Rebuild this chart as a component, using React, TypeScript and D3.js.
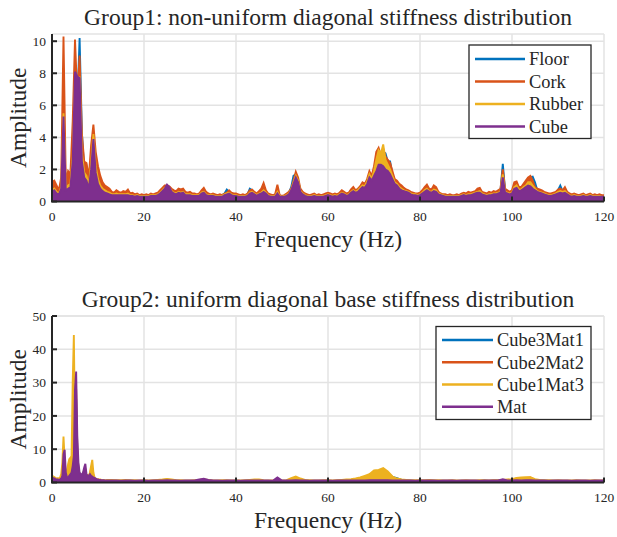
import React from 'react';
import * as d3 from 'd3';

const W = 617;
const H = 537;
const COLORS = ['#0072BD', '#D95319', '#EDB120', '#7E2F8E'];
const FONT = '"Liberation Serif", "Times New Roman", serif';

// ---------- Group 1 (0.5 Hz resolution, 0..120 Hz) ----------
const topFreq = d3.range(0, 241).map((i) => i * 0.5);

const floorAmp = [
  0.8,0.9,0.7,0.6,1.0,4.0,0.9,1.2,1.3,3.5,
  7.5,6.0,10.2,4.3,2.0,2.2,1.2,2.5,3.8,2.4,
  1.6,1.2,0.9,0.8,0.7,0.6,0.5,0.5,0.55,0.5,
  0.5,0.5,0.5,0.55,0.45,0.45,0.4,0.45,0.35,0.4,
  0.35,0.4,0.35,0.4,0.4,0.45,0.5,0.6,0.75,0.9,
  0.95,0.9,0.7,0.6,0.55,0.65,0.6,0.65,0.5,0.5,
  0.5,0.45,0.45,0.4,0.45,0.6,0.7,0.5,0.45,0.4,
  0.45,0.4,0.35,0.4,0.4,0.5,0.75,0.6,0.5,0.45,
  0.45,0.4,0.35,0.4,0.4,0.45,0.8,0.7,0.55,0.45,
  0.55,0.6,0.9,0.6,0.45,0.4,0.35,0.4,0.7,0.35,
  0.35,0.35,0.45,0.55,0.9,1.6,1.7,1.3,0.7,0.5,
  0.45,0.4,0.35,0.4,0.45,0.35,0.4,0.35,0.4,0.45,
  0.5,0.45,0.4,0.45,0.4,0.5,0.6,0.55,0.45,0.5,
  0.7,0.8,0.65,0.75,0.9,1.0,1.0,1.3,1.7,1.5,
  2.0,2.6,3.0,2.7,3.1,3.0,2.5,2.5,1.7,1.3,
  1.2,1.0,0.9,0.8,0.7,0.65,0.55,0.5,0.45,0.45,
  0.5,0.6,0.8,0.9,0.7,0.65,0.85,0.8,0.55,0.45,
  0.4,0.4,0.35,0.4,0.35,0.35,0.4,0.35,0.45,0.5,
  0.45,0.5,0.5,0.55,0.6,0.7,0.75,0.55,0.5,0.45,
  0.5,0.5,0.55,0.55,0.6,0.7,2.35,0.7,0.6,0.55,
  0.6,1.0,1.1,0.8,0.8,1.0,1.2,1.4,1.5,1.55,
  1.2,0.7,0.65,0.6,0.55,0.5,0.45,0.45,0.5,0.55,
  0.7,1.0,0.65,0.8,0.55,0.45,0.4,0.45,0.4,0.35,
  0.4,0.45,0.35,0.4,0.45,0.35,0.4,0.35,0.4,0.35,
  0.35,
];

const corkAmp = [
  1.2,1.3,1.0,0.7,1.5,10.3,1.2,1.9,1.7,5.0,
  10.1,6.5,9.1,4.2,2.5,2.4,1.5,3.5,4.8,3.1,
  2.2,1.6,1.2,1.0,0.9,0.8,0.6,0.55,0.7,0.6,
  0.55,0.65,0.6,0.75,0.5,0.55,0.45,0.5,0.4,0.45,
  0.4,0.45,0.4,0.5,0.45,0.5,0.55,0.7,0.85,1.0,
  1.0,0.95,0.8,0.7,0.65,0.8,0.75,0.8,0.6,0.55,
  0.6,0.5,0.5,0.45,0.5,0.7,0.85,0.6,0.5,0.45,
  0.5,0.45,0.4,0.45,0.4,0.5,0.55,0.7,0.55,0.5,
  0.5,0.45,0.4,0.45,0.4,0.5,0.7,0.75,0.6,0.5,
  0.65,0.8,1.15,0.7,0.5,0.45,0.4,0.45,1.05,0.4,
  0.35,0.4,0.5,0.6,0.8,1.3,1.85,1.5,0.8,0.6,
  0.5,0.45,0.4,0.45,0.5,0.4,0.45,0.4,0.45,0.5,
  0.55,0.5,0.45,0.5,0.45,0.55,0.7,0.6,0.5,0.55,
  0.75,0.9,0.7,0.8,0.95,1.2,1.1,1.4,1.9,1.6,
  2.2,3.1,3.35,2.9,3.3,2.8,2.6,2.4,1.9,1.4,
  1.3,1.1,1.0,0.85,0.75,0.7,0.6,0.55,0.5,0.5,
  0.55,0.7,0.9,1.05,0.8,0.75,1.0,0.9,0.6,0.5,
  0.45,0.45,0.4,0.45,0.4,0.4,0.45,0.4,0.5,0.55,
  0.5,0.6,0.55,0.6,0.65,0.8,0.85,0.6,0.55,0.5,
  0.6,0.55,0.65,0.6,0.7,0.8,2.0,0.8,0.7,0.6,
  0.7,1.2,1.25,0.9,0.9,1.1,1.3,1.5,1.6,1.3,
  0.9,0.8,0.75,0.7,0.6,0.55,0.5,0.5,0.55,0.6,
  0.75,0.8,0.7,0.9,0.6,0.5,0.45,0.5,0.45,0.4,
  0.45,0.5,0.4,0.45,0.5,0.4,0.45,0.4,0.45,0.4,
  0.4,
];

const rubberAmp = [
  0.7,0.8,0.6,0.5,0.9,5.5,0.8,1.0,1.1,2.8,
  7.6,7.0,7.8,3.0,1.8,1.6,1.0,2.4,4.2,2.2,
  1.4,1.0,0.8,0.7,0.6,0.55,0.45,0.45,0.5,0.45,
  0.45,0.45,0.45,0.5,0.4,0.4,0.35,0.4,0.35,0.35,
  0.35,0.35,0.35,0.4,0.4,0.4,0.45,0.55,0.7,0.85,
  0.9,0.85,0.65,0.55,0.5,0.6,0.55,0.6,0.45,0.45,
  0.45,0.4,0.4,0.4,0.4,0.55,0.6,0.45,0.4,0.4,
  0.4,0.35,0.35,0.35,0.35,0.45,0.5,0.55,0.45,0.4,
  0.4,0.35,0.35,0.35,0.35,0.4,0.55,0.6,0.5,0.4,
  0.5,0.55,0.7,0.55,0.4,0.35,0.35,0.35,0.6,0.35,
  0.3,0.35,0.4,0.5,0.75,1.2,1.6,1.3,0.65,0.5,
  0.4,0.35,0.35,0.35,0.4,0.35,0.35,0.35,0.35,0.4,
  0.45,0.4,0.35,0.4,0.35,0.45,0.55,0.5,0.4,0.45,
  0.6,0.7,0.6,0.7,0.85,1.0,0.95,1.25,1.7,1.4,
  1.9,2.6,3.2,3.0,3.56,2.6,2.3,2.0,1.6,1.2,
  1.1,0.9,0.8,0.7,0.65,0.6,0.5,0.45,0.45,0.4,
  0.45,0.55,0.7,0.8,0.65,0.6,0.75,0.7,0.5,0.45,
  0.4,0.35,0.35,0.35,0.35,0.35,0.35,0.35,0.4,0.45,
  0.4,0.45,0.45,0.5,0.55,0.6,0.65,0.5,0.45,0.4,
  0.45,0.45,0.5,0.5,0.55,0.6,1.7,0.6,0.55,0.5,
  0.55,0.9,1.0,0.75,0.75,0.9,1.0,1.2,1.2,1.0,
  0.8,0.65,0.6,0.55,0.5,0.45,0.4,0.4,0.45,0.5,
  0.6,0.65,0.6,0.65,0.5,0.4,0.35,0.4,0.35,0.35,
  0.35,0.4,0.35,0.35,0.4,0.35,0.35,0.35,0.35,0.3,
  0.3,
];

const cubeAmp = [
  0.6,0.7,0.5,0.45,0.8,5.3,0.7,0.8,0.9,2.5,
  8.1,7.8,7.7,2.5,1.5,1.3,0.8,2.0,3.9,1.8,
  1.1,0.8,0.65,0.55,0.5,0.45,0.4,0.4,0.4,0.4,
  0.4,0.4,0.4,0.4,0.35,0.35,0.3,0.35,0.3,0.3,
  0.3,0.3,0.3,0.35,0.35,0.35,0.4,0.5,0.65,0.8,
  1.05,0.9,0.6,0.5,0.45,0.55,0.5,0.55,0.4,0.4,
  0.4,0.35,0.35,0.35,0.35,0.5,0.55,0.4,0.35,0.35,
  0.35,0.3,0.3,0.3,0.3,0.4,0.45,0.5,0.4,0.35,
  0.35,0.3,0.3,0.3,0.3,0.35,0.5,0.55,0.45,0.35,
  0.45,0.5,0.6,0.5,0.35,0.3,0.3,0.3,0.5,0.3,
  0.3,0.3,0.35,0.45,0.7,1.1,1.5,1.2,0.6,0.45,
  0.35,0.3,0.3,0.3,0.35,0.3,0.3,0.3,0.3,0.35,
  0.4,0.35,0.3,0.35,0.3,0.4,0.5,0.45,0.35,0.4,
  0.55,0.65,0.55,0.6,0.75,0.9,0.85,1.1,1.5,1.3,
  1.6,1.9,2.3,2.3,2.2,2.0,1.9,1.7,1.4,1.1,
  1.0,0.8,0.7,0.65,0.6,0.55,0.45,0.4,0.4,0.35,
  0.4,0.5,0.6,0.7,0.6,0.55,0.65,0.6,0.45,0.4,
  0.35,0.3,0.3,0.3,0.3,0.3,0.3,0.3,0.35,0.4,
  0.35,0.4,0.4,0.45,0.5,0.55,0.55,0.45,0.4,0.35,
  0.4,0.4,0.45,0.45,0.5,0.55,1.5,0.55,0.5,0.45,
  0.5,0.8,0.85,0.65,0.7,0.8,0.9,1.0,0.95,0.8,
  0.7,0.6,0.55,0.5,0.45,0.4,0.35,0.35,0.4,0.45,
  0.5,0.55,0.5,0.55,0.45,0.35,0.3,0.35,0.3,0.3,
  0.3,0.35,0.3,0.3,0.35,0.3,0.3,0.3,0.3,0.3,
  0.3,
];

// ---------- Group 2 (0.25 Hz up to 12 Hz, then 1 Hz) ----------
const bottomFreq = [
  ...d3.range(0, 48).map((i) => i * 0.25),
  ...d3.range(12, 121),
];

const cube3Mat1Amp = [
  0.8,1.0,0.9,0.8,0.7,0.7,0.6,0.7,
  1.0,2.0,6.0,5.0,2.0,1.2,1.5,2.0,
  2.2,2.5,4.0,6.0,20.0,25.0,9.0,4.0,
  2.5,2.0,2.0,2.5,3.5,3.0,2.0,1.5,
  1.5,2.0,3.0,3.0,1.5,1.0,0.9,0.8,
  0.7,0.6,0.6,0.6,0.5,0.5,0.5,0.5,
  0.55,0.5,0.5,0.45,0.5,0.55,0.5,0.5,0.45,0.5,
  0.5,0.6,0.7,0.9,0.7,0.55,0.5,0.5,0.45,0.5,
  0.6,0.7,0.6,0.5,0.5,0.45,0.5,0.5,0.5,0.45,
  0.5,0.6,0.7,0.6,0.5,0.5,0.45,0.6,0.5,0.5,
  1.0,1.4,0.9,0.6,0.5,0.5,0.5,0.5,0.5,0.45,
  0.5,0.6,0.7,0.8,0.9,1.1,1.5,1.9,2.6,3.0,
  3.2,2.8,1.7,1.3,0.8,0.6,0.55,0.5,0.5,0.5,
  0.55,0.5,0.5,0.45,0.5,0.5,0.45,0.5,0.5,0.5,
  0.5,0.5,0.55,0.5,0.55,0.6,0.8,0.7,0.8,1.0,
  1.1,1.2,1.2,0.8,0.6,0.55,0.5,0.5,0.5,0.5,
  0.5,0.45,0.5,0.5,0.5,0.45,0.5,0.5,0.5,
];

const cube2Mat2Amp = [
  0.9,1.1,1.0,0.9,0.8,0.8,0.7,0.8,
  1.0,2.5,8.0,6.0,2.0,1.3,1.8,2.5,
  3.0,3.5,8.0,15.0,25.0,28.0,10.0,4.0,
  2.5,2.0,2.0,2.5,3.8,4.0,2.0,1.6,
  1.6,2.5,4.0,4.0,1.8,1.1,0.9,0.8,
  0.7,0.6,0.6,0.6,0.5,0.5,0.5,0.5,
  0.55,0.5,0.55,0.5,0.5,0.5,0.5,0.45,0.5,0.5,
  0.5,0.55,0.65,0.8,0.7,0.5,0.5,0.5,0.5,0.5,
  0.65,0.8,0.65,0.5,0.5,0.5,0.5,0.45,0.5,0.5,
  0.5,0.55,0.65,0.6,0.5,0.5,0.5,0.7,0.5,0.5,
  0.9,1.3,0.9,0.6,0.5,0.5,0.5,0.5,0.5,0.5,
  0.55,0.6,0.7,0.75,0.85,1.0,1.3,1.7,2.2,2.6,
  2.8,2.4,1.5,1.0,0.7,0.6,0.5,0.5,0.5,0.5,
  0.5,0.5,0.5,0.5,0.5,0.5,0.5,0.5,0.5,0.5,
  0.5,0.5,0.5,0.5,0.55,0.6,0.7,0.7,0.8,1.2,
  1.3,1.4,1.5,0.8,0.6,0.5,0.5,0.5,0.5,0.5,
  0.5,0.5,0.5,0.5,0.5,0.5,0.5,0.5,0.5,
];

const cube1Mat3Amp = [
  1.5,1.8,1.6,1.4,1.2,1.3,1.2,1.5,
  2.5,6.0,13.8,7.0,2.5,3.0,5.5,7.0,
  7.4,8.0,30.0,44.3,15.0,6.0,4.0,3.0,
  2.5,2.0,2.2,1.8,2.0,2.5,2.0,2.2,
  2.0,3.0,5.0,6.8,3.0,1.5,1.2,1.0,
  1.0,0.9,0.9,0.8,0.8,0.8,0.7,0.7,
  0.8,0.8,0.7,0.7,0.8,0.7,0.7,0.6,0.7,0.6,
  0.7,0.8,0.9,1.1,0.9,0.7,0.7,0.6,0.6,0.7,
  0.8,0.9,0.8,0.6,0.6,0.7,0.7,0.6,0.6,0.6,
  0.7,0.8,0.9,0.9,0.7,0.6,0.6,0.7,0.6,0.7,
  1.3,1.8,1.2,0.8,0.7,0.6,0.6,0.7,0.7,0.6,
  0.7,0.8,0.9,1.0,1.2,1.5,2.0,2.5,3.6,3.8,
  4.3,3.3,1.8,1.2,0.9,0.8,0.7,0.7,0.7,0.7,
  0.8,0.7,0.7,0.6,0.6,0.7,0.6,0.6,0.7,0.6,
  0.6,0.7,0.7,0.6,0.7,0.7,0.8,0.9,1.0,1.4,
  1.5,1.6,1.6,1.0,0.8,0.7,0.7,0.6,0.7,0.6,
  0.6,0.6,0.7,0.6,0.6,0.6,0.7,0.6,0.6,
];

const matAmp = [
  1.0,1.3,1.2,1.0,0.9,0.9,0.8,0.9,
  1.2,2.0,8.5,9.8,3.0,1.5,1.5,2.0,
  2.5,3.0,5.0,8.0,28.0,33.3,14.0,6.0,
  3.0,2.5,2.5,3.0,4.5,5.6,2.5,2.0,
  2.0,2.5,2.0,1.8,1.5,1.4,1.2,1.0,
  0.9,0.8,0.8,0.7,0.7,0.7,0.6,0.6,
  0.6,0.6,0.6,0.55,0.6,0.6,0.55,0.6,0.6,0.55,
  0.6,0.6,0.65,0.7,0.6,0.6,0.55,0.6,0.6,0.6,
  0.9,1.1,0.8,0.6,0.6,0.55,0.6,0.6,0.6,0.55,
  0.6,0.6,0.6,0.6,0.6,0.6,0.55,1.5,0.6,0.6,
  0.6,0.7,0.6,0.6,0.55,0.6,0.6,0.6,0.6,0.55,
  0.6,0.6,0.6,0.65,0.6,0.6,0.65,0.7,0.7,0.7,
  0.7,0.7,0.65,0.6,0.6,0.6,0.6,0.55,0.6,0.6,
  0.6,0.6,0.55,0.6,0.6,0.6,0.55,0.6,0.6,0.6,
  0.6,0.55,0.6,0.6,0.6,0.6,1.0,0.6,0.6,0.7,
  0.65,0.7,0.7,0.6,0.6,0.6,0.55,0.6,0.6,0.6,
  0.6,0.55,0.6,0.6,0.6,0.55,0.6,0.6,0.6,
];

const xTicks = [0, 20, 40, 60, 80, 100, 120];
const topYTicks = [0, 2, 4, 6, 8, 10];
const bottomYTicks = [0, 10, 20, 30, 40, 50];

const topNames = ['Floor', 'Cork', 'Rubber', 'Cube'];
const bottomNames = ['Cube3Mat1', 'Cube2Mat2', 'Cube1Mat3', 'Mat'];

type PanelProps = {
  id: string;
  title: string;
  freq: number[];
  series: number[][];
  names: string[];
  yMax: number;
  yTicks: number[];
  top: number;
  bottom: number;
  titleY: number;
  legend: { x0: number; x1: number; y0: number; y1: number; rows: number[]; lx0: number; lx1: number; tx: number };
};

function Panel(p: PanelProps) {
  const left = 52;
  const right = 604;
  const x = d3.scaleLinear().domain([0, 120]).range([left, right]);
  const y = d3.scaleLinear().domain([0, p.yMax]).range([p.bottom, p.top]);
  const area = d3
    .area<number>()
    .x((_, i) => x(p.freq[i]))
    .y0(y(0))
    .y1((d) => y(d));
  const line = d3
    .line<number>()
    .x((_, i) => x(p.freq[i]))
    .y((d) => y(d));
  const gridColor = '#e3e3e3';
  const axisColor = '#262626';
  const lg = p.legend;
  return (
    <g>
      <defs>
        <clipPath id={p.id}>
          <rect x={left} y={p.top} width={right - left} height={p.bottom - p.top} />
        </clipPath>
      </defs>
      {xTicks.map((t) => (
        <line key={'gx' + t} x1={x(t)} x2={x(t)} y1={p.top} y2={p.bottom} stroke={gridColor} strokeWidth={1.5} />
      ))}
      {p.yTicks.map((t) => (
        <line key={'gy' + t} x1={left} x2={right} y1={y(t)} y2={y(t)} stroke={gridColor} strokeWidth={1.5} />
      ))}
      <line x1={left} x2={right} y1={p.top} y2={p.top} stroke={gridColor} strokeWidth={1.5} />
      <g clipPath={`url(#${p.id})`}>
        {p.series.map((s, k) => (
          <g key={'s' + k}>
            <path d={area(s) || ''} fill={COLORS[k]} stroke="none" />
            <path d={line(s) || ''} fill="none" stroke={COLORS[k]} strokeWidth={1.9} strokeLinejoin="miter" />
          </g>
        ))}
      </g>
      <line x1={left} x2={left} y1={p.top} y2={p.bottom} stroke={axisColor} strokeWidth={2} />
      <line x1={left - 1} x2={right} y1={p.bottom} y2={p.bottom} stroke={axisColor} strokeWidth={2} />
      {xTicks.map((t) => (
        <g key={'xt' + t}>
          <line x1={x(t)} x2={x(t)} y1={p.bottom} y2={p.bottom - 5} stroke={axisColor} strokeWidth={2} />
          <text x={x(t)} y={p.bottom + 19.5} textAnchor="middle" fontSize={13.5} fontFamily={FONT} fill={axisColor}>
            {t}
          </text>
        </g>
      ))}
      {p.yTicks.map((t) => (
        <g key={'yt' + t}>
          <line x1={left} x2={left + 5} y1={y(t)} y2={y(t)} stroke={axisColor} strokeWidth={2} />
          <text x={46} y={y(t)} dy="0.35em" textAnchor="end" fontSize={13.5} fontFamily={FONT} fill={axisColor}>
            {t}
          </text>
        </g>
      ))}
      <text x={(left + right) / 2} y={p.titleY} textAnchor="middle" fontSize={23.5} fontFamily={FONT} fill={axisColor}>
        {p.title}
      </text>
      <text x={328} y={p.bottom + 45} textAnchor="middle" fontSize={23.5} fontFamily={FONT} fill={axisColor}>
        Frequency (Hz)
      </text>
      <text
        transform={`translate(25.5, ${(p.top + p.bottom) / 2}) rotate(-90)`}
        textAnchor="middle"
        fontSize={23.5}
        fontFamily={FONT}
        fill={axisColor}
      >
        Amplitude
      </text>
      <rect x={lg.x0} y={lg.y0} width={lg.x1 - lg.x0} height={lg.y1 - lg.y0} fill="#ffffff" stroke="#262626" strokeWidth={1.3} />
      {p.names.map((n, k) => (
        <g key={'lg' + k}>
          <line x1={lg.lx0} x2={lg.lx1} y1={lg.rows[k]} y2={lg.rows[k]} stroke={COLORS[k]} strokeWidth={2.6} />
          <text x={lg.tx} y={lg.rows[k]} dy="0.35em" fontSize={18.4} fontFamily={FONT} fill={axisColor}>
            {n}
          </text>
        </g>
      ))}
    </g>
  );
}

export default function App() {
  return (
    <svg
      width={W}
      height={H}
      viewBox={`0 0 ${W} ${H}`}
      style={{ position: 'absolute', left: 0, top: 0, background: '#ffffff' }}
    >
      <rect x={0} y={0} width={W} height={H} fill="#ffffff" />
      <Panel
        id="clipTop"
        title="Group1: non-uniform diagonal stiffness distribution"
        freq={topFreq}
        series={[floorAmp, corkAmp, rubberAmp, cubeAmp]}
        names={topNames}
        yMax={10.45}
        yTicks={topYTicks}
        top={34}
        bottom={201.5}
        titleY={25}
        legend={{ x0: 469, x1: 591, y0: 45, y1: 138.5, rows: [59, 81.5, 104, 126.5], lx0: 475, lx1: 525, tx: 529 }}
      />
      <Panel
        id="clipBottom"
        title="Group2: uniform diagonal base stiffness distribution"
        freq={bottomFreq}
        series={[cube3Mat1Amp, cube2Mat2Amp, cube1Mat3Amp, matAmp]}
        names={bottomNames}
        yMax={50}
        yTicks={bottomYTicks}
        top={316}
        bottom={482.5}
        titleY={306.5}
        legend={{ x0: 436, x1: 591, y0: 326.5, y1: 419.5, rows: [340, 362.3, 384.5, 406.7], lx0: 442, lx1: 493, tx: 497 }}
      />
    </svg>
  );
}
